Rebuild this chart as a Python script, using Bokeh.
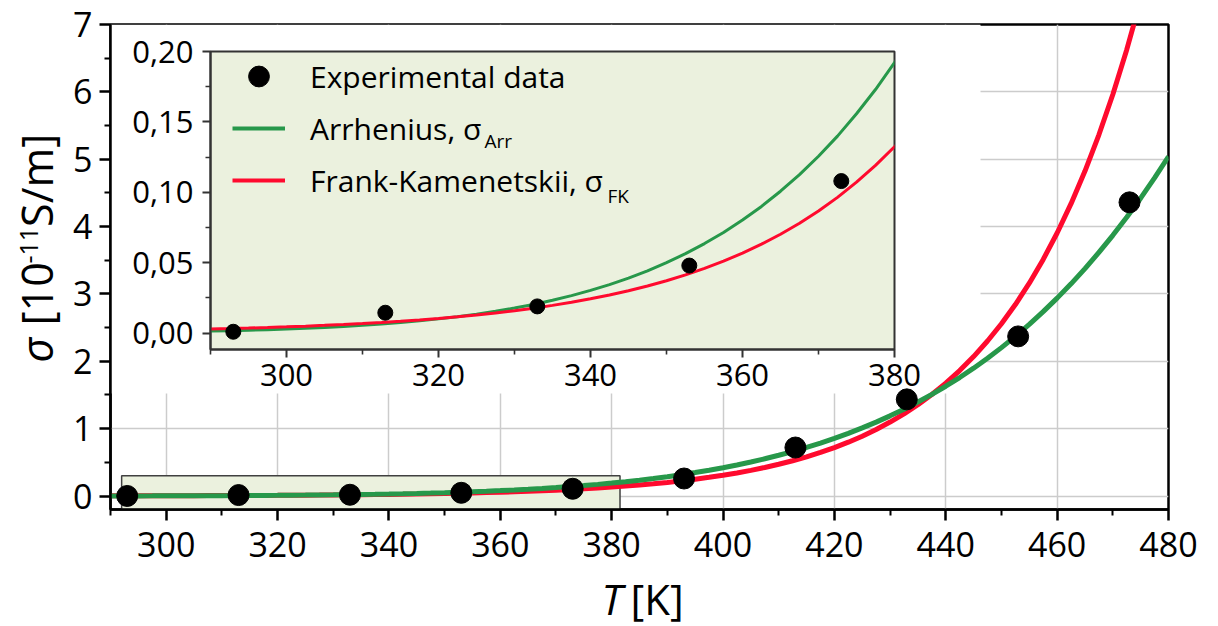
import math
from bokeh.plotting import figure
from bokeh.models import (Range1d, FixedTicker, CustomJSTickFormatter, Label,
                          BoxAnnotation, Legend, LegendItem)
from bokeh.layouts import column
from bokeh.embed import file_html
from bokeh.resources import INLINE

# ---------------- data ----------------
# measured conductivity, 1e-11 S/m
T_exp = [293, 313, 333, 353, 373, 393, 413, 433, 453, 473]
sigma_exp = [0.001, 0.0145, 0.019, 0.048, 0.108, 0.26, 0.72, 1.435, 2.37, 4.36]

# model curves sampled every 2.5 K
T_fit = [290, 292.5, 295, 297.5, 300, 302.5, 305, 307.5, 310, 312.5, 315, 317.5,
         320, 322.5, 325, 327.5, 330, 332.5, 335, 337.5, 340, 342.5, 345, 347.5,
         350, 352.5, 355, 357.5, 360, 362.5, 365, 367.5, 370, 372.5, 375, 377.5,
         380, 382.5, 385, 387.5, 390, 392.5, 395, 397.5, 400, 402.5, 405, 407.5,
         410, 412.5, 415, 417.5, 420, 422.5, 425, 427.5, 430, 432.5, 435, 437.5,
         440, 442.5, 445, 447.5, 450, 452.5, 455, 457.5, 460, 462.5, 465, 467.5,
         470, 472.5, 475, 477.5, 480]
sigma_arr = [0.00148, 0.001759, 0.00209, 0.002475, 0.00293, 0.003449, 0.00406,
             0.004751, 0.00556, 0.006479, 0.00755, 0.008754, 0.01015, 0.01171,
             0.01351, 0.015525, 0.01784, 0.020414, 0.02336, 0.026631, 0.03036,
             0.034463, 0.03912, 0.044262, 0.05008, 0.05645, 0.06363, 0.071499,
             0.08034, 0.089991, 0.1008, 0.11252, 0.1256, 0.13989, 0.1558, 0.173,
             0.1921, 0.21265, 0.2354, 0.25997, 0.2871, 0.31622, 0.3483, 0.38284,
             0.4208, 0.46135, 0.5058, 0.55323, 0.6051, 0.66033, 0.7206, 0.78498,
             0.8551, 0.92979, 1.011, 1.09686, 1.190, 1.289, 1.395, 1.509,
             1.630, 1.759, 1.898, 2.045, 2.203, 2.370, 2.548, 2.737,
             2.938, 3.150, 3.376, 3.616, 3.870, 4.138, 4.422, 4.722, 5.04]
sigma_fk = [0.00294, 0.003267, 0.00363, 0.004037, 0.00449, 0.004987, 0.00554,
            0.00616, 0.00685, 0.007613, 0.00846, 0.009407, 0.01046, 0.011625,
            0.01292, 0.014364, 0.01597, 0.017751, 0.01973, 0.021932, 0.02438,
            0.027099, 0.03012, 0.033487, 0.03723, 0.041379, 0.04599, 0.051124,
            0.05683, 0.063171, 0.07022, 0.078049, 0.08675, 0.096435, 0.1072,
            0.11914, 0.1324, 0.14718, 0.1636, 0.18188, 0.2022, 0.22474, 0.2498,
            0.27765, 0.3086, 0.34303, 0.3813, 0.42383, 0.4711, 0.52362, 0.5820,
            0.64694, 0.7191, 0.79928, 0.8884, 0.98766, 1.098, 1.220, 1.356,
            1.507, 1.676, 1.863, 2.070, 2.302, 2.558, 2.843, 3.160, 3.513,
            3.905, 4.340, 4.824, 5.363, 5.960, 6.626, 7.364, 8.186, 9.099]

x_ticks = [300, 320, 340, 360, 380, 400, 420, 440, 460, 480]
x_minor = [290, 310, 330, 350, 370, 390, 410, 430, 450, 470]
y_ticks = [0, 1, 2, 3, 4, 5, 6, 7]
y_minor = [0.5, 1.5, 2.5, 3.5, 4.5, 5.5, 6.5]

inset_x_ticks = [300, 320, 340, 360, 380]
inset_x_minor = [290, 310, 330, 350, 370]
inset_y_ticks = [0.0, 0.05, 0.10, 0.15, 0.20]
inset_y_minor = [0.025, 0.075, 0.125, 0.175]

legend_labels = ["Experimental data", "Arrhenius, \u03c3", "Frank-Kamenetskii, \u03c3"]
legend_subs = ["Arr", "FK"]

# ---------------- style ----------------
FONT = "Open Sans"
GREEN = "#27984a"
RED = "#ff0a2e"
PANEL = "#ebf1de"
GRID = "#cccccc"

W, H = 1218, 626
X0, X1 = 290, 480
Y0, Y1 = -0.2, 7
FL, FT, FW, FH = 110, 24, 1058, 485          # main frame box (px)

IX0, IX1 = 290, 380
IY0, IY1 = -0.0116, 0.20
INSET_LEFT, INSET_TOP = 80, 26               # inset canvas position (px)
IFL, IFT, IFW, IFH = 130, 25, 684, 298       # inset frame inside its canvas

# rough Open Sans advance widths (em) used to lay out composite titles
OS_W = {' ': 0.26, '[': 0.296, ']': 0.296, '0': 0.572, '1': 0.572, '-': 0.322,
        '/': 0.367, 'S': 0.532, 'm': 0.925, '\u03c3': 0.60, 'T': 0.556, 'K': 0.621}


def text_w(s, size):
    return sum(OS_W.get(c, 0.57) for c in s) * size


def px_x(px):
    return X0 + (px - FL) / FW * (X1 - X0)


def px_y(py):
    return Y0 + (FT + FH - py) / FH * (Y1 - Y0)


def style_axis(ax, size, color, lw, tick_out, minor_out, standoff):
    ax.axis_line_color = color
    ax.axis_line_width = lw
    ax.major_tick_line_color = color
    ax.minor_tick_line_color = color
    ax.major_tick_line_width = lw
    ax.minor_tick_line_width = lw * 0.8
    ax.major_tick_in = 0
    ax.major_tick_out = tick_out
    ax.minor_tick_in = 0
    ax.minor_tick_out = minor_out
    ax.major_label_text_font = FONT
    ax.major_label_text_font_size = size
    ax.major_label_text_color = "black"
    ax.major_label_standoff = standoff
    ax.axis_label = None


# ---------------- main plot ----------------
p = figure(width=W, height=H, x_range=Range1d(X0, X1), y_range=Range1d(Y0, Y1),
           min_border_left=FL, min_border_top=FT,
           min_border_right=W - FL - FW, min_border_bottom=H - FT - FH,
           frame_align=False, output_backend="svg", toolbar_location=None)
p.background_fill_color = "white"
p.border_fill_color = "white"
p.outline_line_color = "black"
p.outline_line_width = 2.5

xt = FixedTicker(ticks=x_ticks, minor_ticks=x_minor)
yt = FixedTicker(ticks=y_ticks, minor_ticks=y_minor)
p.xaxis.ticker = xt
p.yaxis.ticker = yt
p.xgrid.ticker = xt
p.ygrid.ticker = yt
for g in (p.xgrid[0], p.ygrid[0]):
    g.grid_line_color = GRID
    g.grid_line_width = 1.5
style_axis(p.xaxis[0], "34px", "black", 2.5, 11, 6, 11)
style_axis(p.yaxis[0], "34px", "black", 2.5, 11, 6, 7)

# white panel behind the inset hides the grid there
p.add_layout(BoxAnnotation(right=px_x(980), bottom=px_y(393), fill_color="white",
                           fill_alpha=1, line_alpha=0, level="underlay"))
# marker of the zoomed region
p.add_layout(BoxAnnotation(left=292, right=381.5, top=0.3, fill_color=PANEL,
                           fill_alpha=1, line_color="#404040", line_alpha=1,
                           line_width=1.5, level="underlay"))

p.line(T_fit, sigma_fk, line_color=RED, line_width=5)
p.line(T_fit, sigma_arr, line_color=GREEN, line_width=5)
p.scatter(T_exp, sigma_exp, size=21, color="black")

# ---------------- inset ----------------
inset = figure(frame_width=IFW, frame_height=IFH,
               x_range=Range1d(IX0, IX1), y_range=Range1d(IY0, IY1),
               min_border_left=IFL, min_border_top=IFT, min_border_right=40,
               min_border_bottom=60, frame_align=False,
               output_backend="svg", toolbar_location=None,
               styles={"position": "absolute", "left": f"{INSET_LEFT}px",
                       "top": f"{INSET_TOP}px"})
inset.background_fill_color = PANEL
inset.border_fill_alpha = 0
inset.outline_line_color = "#333333"
inset.outline_line_width = 2
inset.grid.visible = False
inset.xaxis.ticker = FixedTicker(ticks=inset_x_ticks, minor_ticks=inset_x_minor)
inset.yaxis.ticker = FixedTicker(ticks=inset_y_ticks, minor_ticks=inset_y_minor)
inset.yaxis.formatter = CustomJSTickFormatter(code="return tick.toFixed(2).replace('.', ',');")
style_axis(inset.xaxis[0], "31px", "#333333", 2, 8, 5, 6)
style_axis(inset.yaxis[0], "31px", "#333333", 2, 8, 5, 9)

inset.line(T_fit, sigma_arr, line_color=GREEN, line_width=3)
inset.line(T_fit, sigma_fk, line_color=RED, line_width=3)
pts_in = inset.scatter(T_exp, sigma_exp, size=15, color="black")

# legend line keys (hidden renderers, shown only in the legend)
key_arr = inset.line(T_fit, sigma_arr, line_color=GREEN, line_width=4, visible=False)
key_fk = inset.line(T_fit, sigma_fk, line_color=RED, line_width=4, visible=False)

legend = Legend(items=[LegendItem(label=legend_labels[0], renderers=[pts_in]),
                       LegendItem(label=legend_labels[1], renderers=[key_arr]),
                       LegendItem(label=legend_labels[2], renderers=[key_fk])],
                location=(22, 143), orientation="vertical",
                glyph_width=53, glyph_height=52, label_standoff=25,
                label_height=40, spacing=0, padding=0, margin=0,
                label_text_font=FONT, label_text_font_size="30px",
                label_text_color="black", border_line_alpha=0,
                background_fill_alpha=0)
inset.add_layout(legend)

# ---------------- titles (transparent top layer, pixel coordinates) ----------------
ov = figure(width=W, height=H, x_range=Range1d(0, W), y_range=Range1d(0, H),
            title=None, min_border_left=0, min_border_right=0, min_border_top=0,
            min_border_bottom=0, x_axis_location=None, y_axis_location=None,
            frame_align=False, output_backend="svg", toolbar_location=None,
            styles={"position": "absolute", "left": "0px", "top": "0px"})
ov.background_fill_alpha = 0
ov.border_fill_alpha = 0
ov.outline_line_color = None
ov.grid.visible = False


def put(txt, x, y, size, style="normal", angle=0.0):
    # (x, y): start of the text, centre line of its capitals, in page pixels
    ov.add_layout(Label(x=x, y=H - y, text=txt, angle=angle, text_align="left",
                        text_baseline="middle", text_font=FONT,
                        text_font_style=style, text_font_size=f"{size}px",
                        text_color="black"))


# y axis title:  sigma [10^-11 S/m], read bottom to top
YL, YS = 43, 25
pos = 362
for txt, fstyle, size, cx, gap in [("\u03c3", "italic", YL, 36, 0.0),
                                    ("[10", "normal", YL, 36, text_w(" ", YL)),
                                    ("-11", "normal", YS, 28, 0.0),
                                    ("S/m]", "normal", YL, 36, 0.0)]:
    pos -= gap
    put(txt, cx, pos, size, fstyle, angle=math.pi / 2)
    pos -= text_w(txt, size)

# x axis title:  T [K]
XL = 42
put("T", 601, 598, XL, "italic")
put("[K]", 630, 598, XL)

# legend subscripts
put(legend_subs[0], 484, 140, 19)
put(legend_subs[1], 607, 195, 19)

layout = column(p, inset, ov)
open("out.html", "w").write(file_html(layout, INLINE))
